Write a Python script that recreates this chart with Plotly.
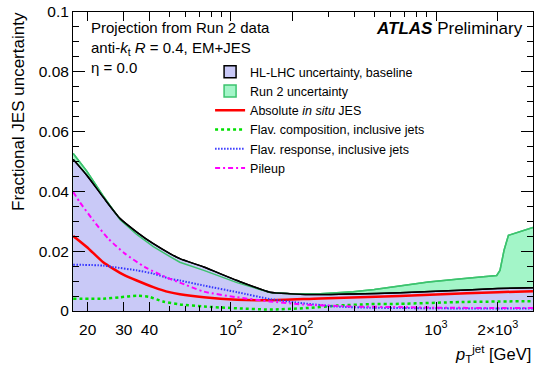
import plotly.graph_objects as go
import math

# ---------------- data ----------------
pt_hl = [17, 19.8, 23.8, 28.8, 34.7, 41.8, 50.4, 56.3, 73.7, 107, 155, 194, 272, 394, 667, 1000, 2000, 2970]
unc_hl = [0.0507, 0.0454, 0.0381, 0.0309, 0.0264, 0.0225, 0.0192, 0.0175, 0.0147, 0.0102, 0.0063, 0.0058,
          0.0055, 0.0057, 0.0061, 0.0066, 0.0075, 0.0078]

pt_run2 = [17, 19.8, 23.8, 28.8, 34.7, 41.8, 50.4, 56.3, 73.7, 107, 155, 194, 272, 394, 500, 667, 916, 1333,
           1977, 2051, 2147, 2255, 2970]
unc_run2 = [0.0527, 0.0468, 0.0385, 0.0305, 0.0256, 0.0215, 0.0182, 0.0163, 0.0136, 0.0095, 0.0062, 0.0058,
            0.0058, 0.0064, 0.0072, 0.0084, 0.0097, 0.0108, 0.0119, 0.0136, 0.0203, 0.0253, 0.0279]

pt_abs = [17, 19.8, 23.8, 26.7, 30, 34.7, 41.8, 50, 56.3, 73.7, 107, 155, 272, 667, 1000, 2000, 2970]
unc_abs = [0.0251, 0.0214, 0.0163, 0.0141, 0.0121, 0.0102, 0.0080, 0.0063, 0.0056, 0.0046, 0.0038, 0.0036,
           0.0042, 0.0050, 0.0055, 0.0063, 0.0066]

pt_comp = [17, 23.8, 28.8, 34.7, 40, 46.5, 56.3, 74, 107, 155, 224, 328, 476, 667, 1333, 2970]
unc_comp = [0.0041, 0.0041, 0.0046, 0.0051, 0.0047, 0.0032, 0.0022, 0.0015, 0.0009, 0.0005, 0.0009, 0.0018,
            0.0023, 0.0024, 0.0030, 0.0033]

pt_resp = [17, 23.8, 26.7, 34.7, 41.8, 50.4, 56.3, 73.7, 107, 155, 224, 328, 476, 667, 1000, 2000, 2970]
unc_resp = [0.0155, 0.0152, 0.0147, 0.0136, 0.0125, 0.0108, 0.0102, 0.0085, 0.0063, 0.0040, 0.0026, 0.0015,
            0.0011, 0.0010, 0.0009, 0.0008, 0.0008]

pt_pu = [17, 18.3, 21.3, 25.2, 30.4, 38, 48.5, 56.3, 73.7, 107, 155, 224, 394, 667, 1000, 2000, 2970]
unc_pu = [0.0398, 0.0364, 0.0303, 0.0242, 0.0192, 0.0147, 0.0112, 0.0095, 0.0065, 0.0046, 0.0032, 0.0022,
          0.0015, 0.0013, 0.0011, 0.0010, 0.0010]

x_tickvals = [20, 30, 40, 100, 200, 1000, 2000]
x_ticktext = ["20", "30", "40", "10<sup>2</sup>", "2×10<sup>2</sup>", "10<sup>3</sup>", "2×10<sup>3</sup>"]
x_minor = [50, 60, 70, 80, 90, 300, 400, 500, 600, 700, 800, 900, 3000]

FONT = "Liberation Sans, Arial, Helvetica, sans-serif"
BLUE_FILL = "#c9c9f7"
GREEN_FILL = "#a3f5c8"
GREEN_LINE = "#3cc36e"

fig = go.Figure()

# Run 2 band (fill)
fig.add_trace(go.Scatter(x=pt_run2, y=unc_run2, mode="lines", fill="tozeroy", fillcolor=GREEN_FILL,
                         line=dict(color=GREEN_LINE, width=1.5), showlegend=False, hoverinfo="skip"))
# HL-LHC band (fill)
fig.add_trace(go.Scatter(x=pt_hl, y=unc_hl, mode="lines", fill="tozeroy", fillcolor=BLUE_FILL,
                         line=dict(color="black", width=1.5, shape="spline", smoothing=0.6),
                         showlegend=False, hoverinfo="skip"))
# Run 2 edge line visible through
fig.add_trace(go.Scatter(x=pt_run2, y=unc_run2, mode="lines", line=dict(color=GREEN_LINE, width=1.5),
                         showlegend=False, hoverinfo="skip"))
# legend entries for the bands (box symbols)
fig.add_trace(go.Bar(x=[None], y=[None], marker=dict(color=BLUE_FILL, line=dict(color="black", width=1.5)),
                     name="HL-LHC uncertainty, baseline", legendrank=1))
fig.add_trace(go.Bar(x=[None], y=[None], marker=dict(color=GREEN_FILL, line=dict(color=GREEN_LINE, width=1.5)),
                     name="Run 2 uncertainty", legendrank=2))
# components
fig.add_trace(go.Scatter(x=pt_abs, y=unc_abs, mode="lines",
                         line=dict(color="#ff0000", width=2.5, shape="spline", smoothing=0.6),
                         name="Absolute <i>in situ</i> JES", legendrank=3))
fig.add_trace(go.Scatter(x=pt_comp, y=unc_comp, mode="lines",
                         line=dict(color="#00e000", width=2.5, dash="3px,3px", shape="spline", smoothing=0.6),
                         name="Flav. composition, inclusive jets", legendrank=4))
fig.add_trace(go.Scatter(x=pt_resp, y=unc_resp, mode="lines",
                         line=dict(color="#3535ff", width=2, dash="1.5px,1.5px", shape="spline", smoothing=0.6),
                         name="Flav. response, inclusive jets", legendrank=5))
fig.add_trace(go.Scatter(x=pt_pu, y=unc_pu, mode="lines",
                         line=dict(color="#ff00ff", width=2, dash="5px,3px,2px,3px", shape="spline", smoothing=0.6),
                         name="Pileup", legendrank=6))
# HL-LHC edge line on top
fig.add_trace(go.Scatter(x=pt_hl, y=unc_hl, mode="lines",
                         line=dict(color="black", width=1.5, shape="spline", smoothing=0.6),
                         showlegend=False, hoverinfo="skip"))

fig.update_layout(
    width=535, height=367,
    margin=dict(l=73, r=2, t=12, b=56),
    paper_bgcolor="white", plot_bgcolor="white",
    font=dict(family=FONT, size=15, color="black"),
    showlegend=True,
    legend=dict(x=0.298, y=0.849, xanchor="left", yanchor="top", bgcolor="rgba(0,0,0,0)",
                font=dict(size=12.5, family=FONT), tracegroupgap=0, itemwidth=30),
    xaxis=dict(type="log", range=[math.log10(16.96), math.log10(2972)],
               tickmode="array", tickvals=x_tickvals, ticktext=x_ticktext,
               ticks="inside", ticklen=9, tickcolor="black", tickwidth=1, ticklabelstandoff=4,
               minor=dict(tickmode="array", tickvals=x_minor, ticks="inside", ticklen=5, tickcolor="black"),
               showline=True, linecolor="black", linewidth=1, mirror="ticks",
               showgrid=False, zeroline=False, tickfont=dict(size=15.5)),
    yaxis=dict(range=[0, 0.1], tickmode="linear", tick0=0, dtick=0.02,
               ticks="inside", ticklen=12, tickcolor="black", tickwidth=1,
               minor=dict(dtick=0.005, ticks="inside", ticklen=6, tickcolor="black"),
               showline=True, linecolor="black", linewidth=1, mirror="ticks",
               showgrid=False, zeroline=False, tickfont=dict(size=15.5)),
)

ann = [
    dict(text="Projection from Run 2 data", x=(89 - 73) / 460, y=(310.5 - 27) / 298.5, xanchor="left",
         yanchor="middle", size=15),
    dict(text="anti-<i>k</i><sub>t</sub> <i>R</i> = 0.4, EM+JES", x=(89 - 73) / 460, y=(310.5 - 48) / 298.5,
         xanchor="left", yanchor="middle", size=15),
    dict(text="η = 0.0", x=(89 - 73) / 460, y=(310.5 - 67) / 298.5, xanchor="left", yanchor="middle", size=15),
    dict(text="<b><i>ATLAS</i></b> Preliminary", x=(525 - 73) / 460, y=(310.5 - 28) / 298.5,
         xanchor="right", yanchor="middle", size=17),
    dict(text="Fractional JES uncertainty", textangle=-90, x=(18 - 73) / 460, y=1.005,
         xanchor="center", yanchor="top", size=17),
    dict(text="<i>p</i><sub>T</sub><sup>jet</sup> [GeV]", x=1.0, y=(310.5 - 353) / 298.5,
         xanchor="right", yanchor="middle", size=16.5),
]
for a in ann:
    sz = a.pop("size")
    a.update(xref="paper", yref="paper", showarrow=False, font=dict(family=FONT, size=sz, color="black"))
fig.update_layout(annotations=ann)

fig.write_html("out.html")
